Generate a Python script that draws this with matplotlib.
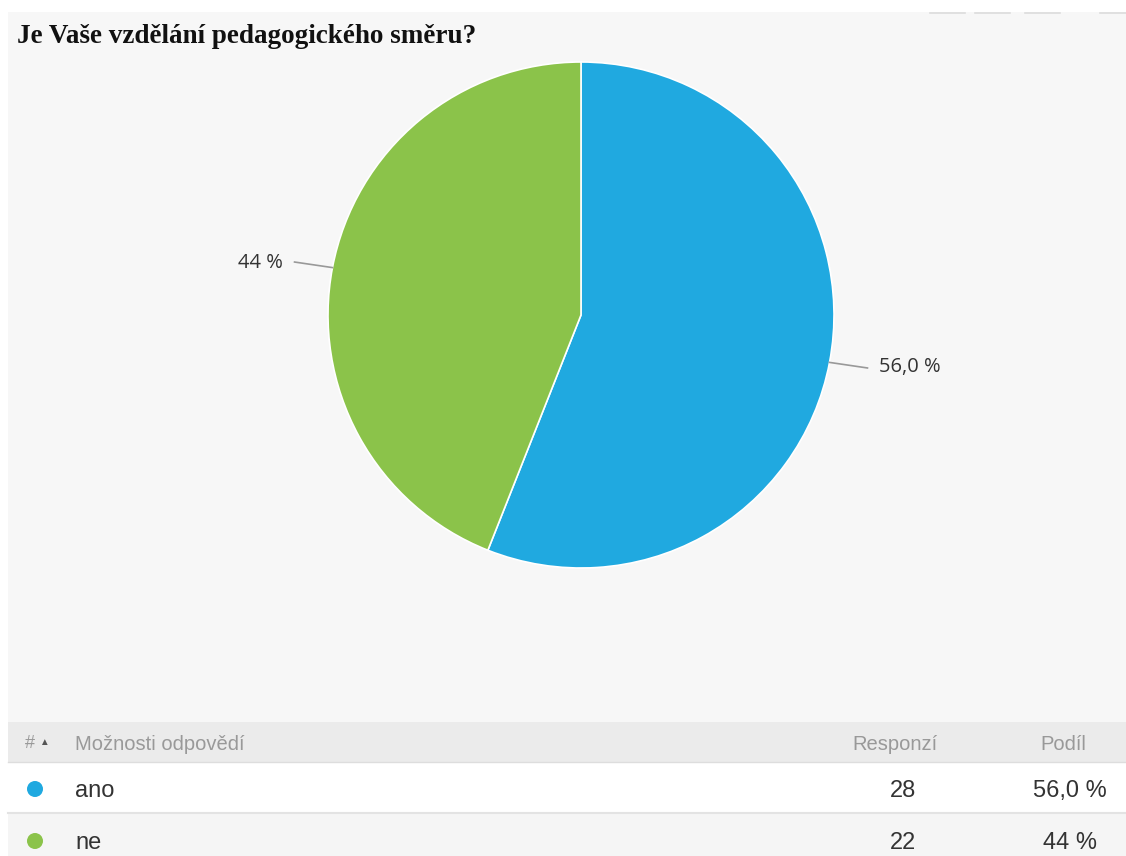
import matplotlib
matplotlib.use('agg')
import matplotlib.pyplot as plt
import numpy as np
from matplotlib.patches import Rectangle, Circle

# survey answers
title = 'Je Vaše vzdělání pedagogického směru?'
answers = ['ano', 'ne']
counts = [28, 22]
shares = ['56,0 %', '44 %']
colors = ['#20a9e0', '#8bc34a']
headers = ['#', 'Možnosti odpovědí', 'Responzí', 'Podíl']

W, H = 1126, 856
fig = plt.figure(figsize=(W / 100, H / 100), dpi=100)
fig.patch.set_facecolor('white')

# background canvas in pixel units
bg = fig.add_axes([0, 0, 1, 1])
bg.set_xlim(0, W)
bg.set_ylim(H, 0)
bg.axis('off')

bg.add_patch(Rectangle((8, 12), W - 8, 710, facecolor='#f7f7f7', edgecolor='none'))
for x0, x1 in [(930, 965), (975, 1010), (1025, 1060), (1100, 1126)]:
    bg.plot([x0, x1], [12.5, 12.5], color='#dcdcdc', lw=1.2)

bg.text(17, 36, title, fontsize=19.5, fontweight='bold', family='Liberation Serif',
        color='#111111', va='center', ha='left')

# pie
cx, cy, r = 581, 315, 253
pax = fig.add_axes([(cx - r) / W, (H - cy - r) / H, 2 * r / W, 2 * r / H])
wedges, _ = pax.pie(counts, colors=colors, startangle=90, counterclock=False,
                    wedgeprops=dict(edgecolor='white', linewidth=1.2))
pax.set_xlim(-1, 1)
pax.set_ylim(-1, 1)
pax.set_aspect('equal')
pax.axis('off')

# data labels with short, almost flat leader lines
for w, lab in zip(wedges, shares):
    mid = np.deg2rad((w.theta1 + w.theta2) / 2)
    c, s = np.cos(mid), np.sin(mid)
    ex = c + 0.15 * np.sign(c)
    ey = s + 0.022 * np.sign(s)
    pax.plot([c, ex], [s, ey], color='#999999', lw=1.2, clip_on=False)
    ha = 'left' if c > 0 else 'right'
    tx = ex + 0.045 * np.sign(c)
    pax.text(tx, ey - 0.004 * np.sign(s), lab, ha=ha, va='center',
             fontsize=14.5, family='Open Sans', color='#333333', clip_on=False)

# table below the chart
tfont = ['Liberation Sans', 'DejaVu Sans']
bg.add_patch(Rectangle((8, 722), W - 8, 40, facecolor='#ebebeb', edgecolor='none'))
bg.add_patch(Rectangle((8, 762), W - 8, 50, facecolor='white', edgecolor='none'))
bg.add_patch(Rectangle((8, 813), W - 8, 43, facecolor='#f5f5f5', edgecolor='none'))
bg.plot([8, W], [762, 762], color='#dddddd', lw=1)
bg.plot([8, W], [812.5, 812.5], color='#e3e3e3', lw=1.5)

hy = 744
hc = '#999999'
bg.text(25, hy, headers[0], fontsize=13, family=tfont, color=hc, va='center')
bg.text(39, hy - 2, '▲', fontsize=7, family=tfont, color='#555555', va='center')
bg.text(75, hy, headers[1], fontsize=14.5, family=tfont, color=hc, va='center')
bg.text(895, hy, headers[2], fontsize=14.5, family=tfont, color=hc, va='center', ha='center')
bg.text(1063, hy, headers[3], fontsize=14.5, family=tfont, color=hc, va='center', ha='center')

for i, (a, n, sh, col) in enumerate(zip(answers, counts, shares, colors)):
    y = 789 + i * 52
    bg.add_patch(Circle((35, y), 8, facecolor=col, edgecolor='none'))
    bg.text(75, y + 2, a, fontsize=17, family=tfont, color='#333333', va='center')
    bg.text(903, y + 2, str(n), fontsize=17, family=tfont, color='#333333', va='center', ha='center')
    bg.text(1070, y + 2, sh, fontsize=17, family=tfont, color='#333333', va='center', ha='center')

fig.savefig('out.png', dpi=100)
